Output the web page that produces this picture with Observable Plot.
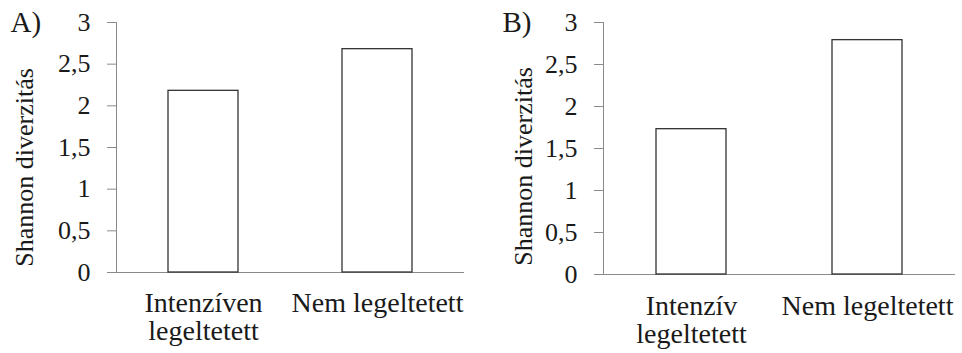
<!DOCTYPE html>
<html><head><meta charset="utf-8">
<script src="https://cdn.jsdelivr.net/npm/d3@7"></script>
<script src="https://cdn.jsdelivr.net/npm/@observablehq/plot@0.6"></script>
<style>body{margin:0;background:#fff} #c{display:flex;width:962px;height:353px}</style>
</head><body><div id="c"></div>
<script>
const categoriesA = ["Intenzíven\nlegeltetett", "Nem legeltetett"];
const valuesA = [2.18, 2.68];
const categoriesB = ["Intenzív\nlegeltetett", "Nem legeltetett"];
const valuesB = [1.73, 2.79];
const yTicks = [0, 0.5, 1, 1.5, 2, 2.5, 3];
const panelLabels = ["A)", "B)"];
const yLabel = "Shannon diverzitás";

function panel(cats, vals, label, m) {
  const data = cats.map((c, i) => ({cat: c, value: vals[i]}));
  return Plot.plot({
    width: 481, height: 353,
    marginLeft: m.l, marginRight: m.r, marginTop: m.t, marginBottom: m.b,
    style: {fontFamily: "Liberation Serif", fontSize: "26px", overflow: "visible", background: "white"},
    x: {domain: cats, paddingInner: 0.6, paddingOuter: 0.3, axis: null},
    y: {domain: [0, 3], axis: null},
    marks: [
      Plot.axisY({ticks: yTicks, tickSize: 9, tickPadding: 17, tickFormat: d => String(d).replace(".", ","),
        stroke: "#8a8a8a", fill: "#1a1a1a", fontSize: 26, label: null}),
      Plot.frame({anchor: "left", stroke: "#8a8a8a"}),
      Plot.ruleY([0], {stroke: "#8a8a8a"}),
      Plot.barY(data, {x: "cat", y: "value", fill: "white", stroke: "#333", strokeWidth: 1.3}),
      Plot.text(data, {x: "cat", text: "cat", frameAnchor: "bottom", lineAnchor: "top", textAnchor: "middle",
        dy: m.xdy, fontSize: 28, lineHeight: 1.0, fill: "#1a1a1a"}),
      Plot.text([yLabel], {frameAnchor: "left", rotate: -90, textAnchor: "middle", lineAnchor: "middle",
        dx: m.ydx, dy: m.ydy, fontSize: 26, fill: "#1a1a1a"}),
      Plot.text([label], {frameAnchor: "top-left", textAnchor: "start", lineAnchor: "top",
        dx: m.pdx, dy: -11, fontSize: 29, fill: "#1a1a1a"})
    ]
  });
}

const c = document.getElementById("c");
c.appendChild(panel(categoriesA, valuesA, panelLabels[0], {l: 116, r: 17, t: 22, b: 81, xdy: 20, ydx: -92, ydy: 20, pdx: -106}));
c.appendChild(panel(categoriesB, valuesB, panelLabels[1], {l: 122, r: 7, t: 22, b: 79, xdy: 21, ydx: -80, ydy: 18, pdx: -101}));
</script>
</body></html>
